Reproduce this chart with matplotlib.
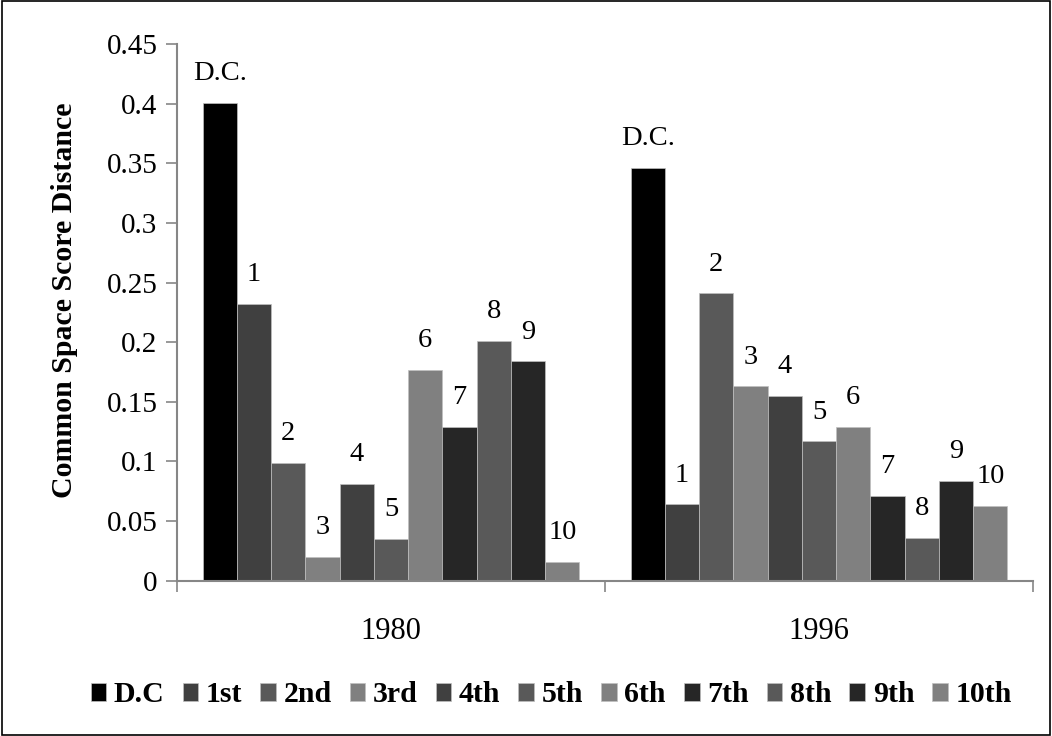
import matplotlib
matplotlib.use("Agg")
import matplotlib.pyplot as plt
import numpy as np
from matplotlib.patches import Rectangle
from matplotlib.ticker import FuncFormatter

years = ["1980", "1996"]
series = ["D.C", "1st", "2nd", "3rd", "4th", "5th", "6th", "7th", "8th", "9th", "10th"]
bar_labels = ["D.C.", "1", "2", "3", "4", "5", "6", "7", "8", "9", "10"]
values_1980 = [0.401, 0.232, 0.099, 0.020, 0.081, 0.035, 0.177, 0.129, 0.201, 0.184, 0.016]
values_1996 = [0.346, 0.064, 0.241, 0.163, 0.155, 0.117, 0.129, 0.071, 0.036, 0.084, 0.063]
colors = ["#000000", "#404040", "#595959", "#808080", "#404040", "#595959",
          "#808080", "#262626", "#595959", "#262626", "#808080"]

plt.rcParams["font.family"] = ["Liberation Serif", "DejaVu Serif"]

fig = plt.figure(figsize=(10.52, 7.36), dpi=100)
ax = fig.add_axes([0.1683, 0.211, 0.8137, 0.729])

x = np.arange(len(years))
w = 0.08
n = len(series)
for i, name in enumerate(series):
    vals = [values_1980[i], values_1996[i]]
    pos = x - w * n / 2 + w * (i + 0.5)
    bars = ax.bar(pos, vals, width=w, color=colors[i], edgecolor="#bfbfbf",
                  linewidth=0.5, label=name, zorder=2)
    for b, v in zip(bars, vals):
        ax.annotate(bar_labels[i], (b.get_x() + b.get_width() / 2, v),
                    xytext=(0, 12), textcoords="offset points",
                    ha="center", va="bottom", fontsize=20.5)

ax.set_xlim(-0.5, 1.5)
ax.set_ylim(0, 0.45)
ax.set_yticks(np.arange(0, 0.451, 0.05))
ax.yaxis.set_major_formatter(FuncFormatter(lambda v, p: "%g" % round(v, 2)))
ax.set_xticks(x)
ax.set_xticklabels(years)
ax.set_xticks([-0.5, 0.5, 1.5], minor=True)
ax.tick_params(axis="x", which="major", length=0, labelsize=22, pad=26)
ax.tick_params(axis="x", which="minor", length=8, width=1.2, color="#868686")
ax.tick_params(axis="y", length=8, width=1.2, color="#868686", labelsize=21, pad=6)

for s in ["top", "right"]:
    ax.spines[s].set_visible(False)
for s in ["left", "bottom"]:
    ax.spines[s].set_color("#868686")
    ax.spines[s].set_linewidth(1.5)

ax.set_ylabel("Common Space Score Distance", fontsize=21.5, fontweight="bold")
ax.yaxis.set_label_coords(-0.116, 0.523)

fig.legend(loc="center", bbox_to_anchor=(0.524, 0.056), ncol=11, frameon=False,
           prop={"size": 21.5, "weight": "bold"}, handlelength=0.53, handleheight=0.53,
           handletextpad=0.25, columnspacing=0.6)

fig.add_artist(Rectangle((0.0015, 0.002), 0.997, 0.996, transform=fig.transFigure,
                         fill=False, edgecolor="black", linewidth=1.2))

fig.savefig("out.png", dpi=100, facecolor="white")
